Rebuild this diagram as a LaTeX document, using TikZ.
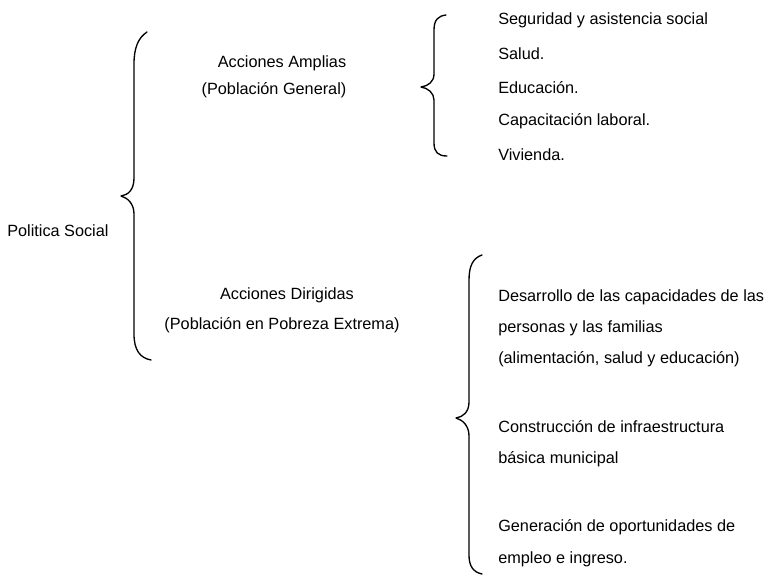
\documentclass[tikz,border=0pt]{standalone}
\usepackage{fontspec}
\setmainfont{Liberation Sans}
\begin{document}
\begin{tikzpicture}[x=0.75pt,y=-0.75pt,
  lbl/.style={inner sep=0pt,font=\fontsize{12.2}{14}\selectfont,anchor=west},
  ctr/.style={inner sep=0pt,font=\fontsize{12.2}{14}\selectfont,anchor=center},
  brace/.style={line width=1pt,line cap=round,line join=round}]
\useasboundingbox (0,0) rectangle (773,577);
% left title
\node[lbl] (ps) at (7,231) {Politica Social};
% middle labels
\node[ctr] (aa) at (282,63) {Acciones Amplias};
\node[ctr] (pg) at (274,90) {(Población General)};
\node[ctr] (ad) at (287,295) {Acciones Dirigidas};
\node[ctr] (pe) at (282,325) {(Población en Pobreza Extrema)};
% list 1
\node[lbl] (l1) at (498,20) {Seguridad y asistencia social};
\node[lbl] (l2) at (498,54) {Salud.};
\node[lbl] (l3) at (498,88) {Educación.};
\node[lbl] (l4) at (498,121) {Capacitación laboral.};
\node[lbl] (l5) at (498,155) {Vivienda.};
% list 2
\node[lbl] (m1) at (498,297) {Desarrollo de las capacidades de las};
\node[lbl] (m2) at (498,328) {personas y las familias};
\node[lbl] (m3) at (498,359) {(alimentación, salud y educación)};
\node[lbl] (m4) at (498,427) {Construcción de infraestructura};
\node[lbl] (m5) at (498,459) {básica municipal};
\node[lbl] (m6) at (498,527) {Generación de oportunidades de};
\node[lbl] (m7) at (498,559) {empleo e ingreso.};
% big brace
\draw[brace] (147,32) .. controls (138,38) and (134,48) .. (134,64)
  -- (134,178) .. controls (134,190) and (128,195) .. (121,196)
  .. controls (128,198) and (134,204) .. (134,214)
  -- (134,334) .. controls (134,350) and (140,358) .. (151,360);
% brace 1
\draw[brace] (446,15) .. controls (438,16) and (434,20) .. (434,30)
  -- (434,74) .. controls (434,82) and (428,86) .. (421,87)
  .. controls (428,88) and (434,93) .. (434,100)
  -- (434,143) .. controls (434,152) and (438,156) .. (447,156);
% brace 2
\draw[brace] (482,255) .. controls (473,258) and (469,266) .. (469,280)
  -- (469,402) .. controls (469,412) and (463,417) .. (456,418)
  .. controls (463,420) and (469,426) .. (469,436)
  -- (469,555) .. controls (469,566) and (473,572) .. (482,574);
\end{tikzpicture}
\end{document}
